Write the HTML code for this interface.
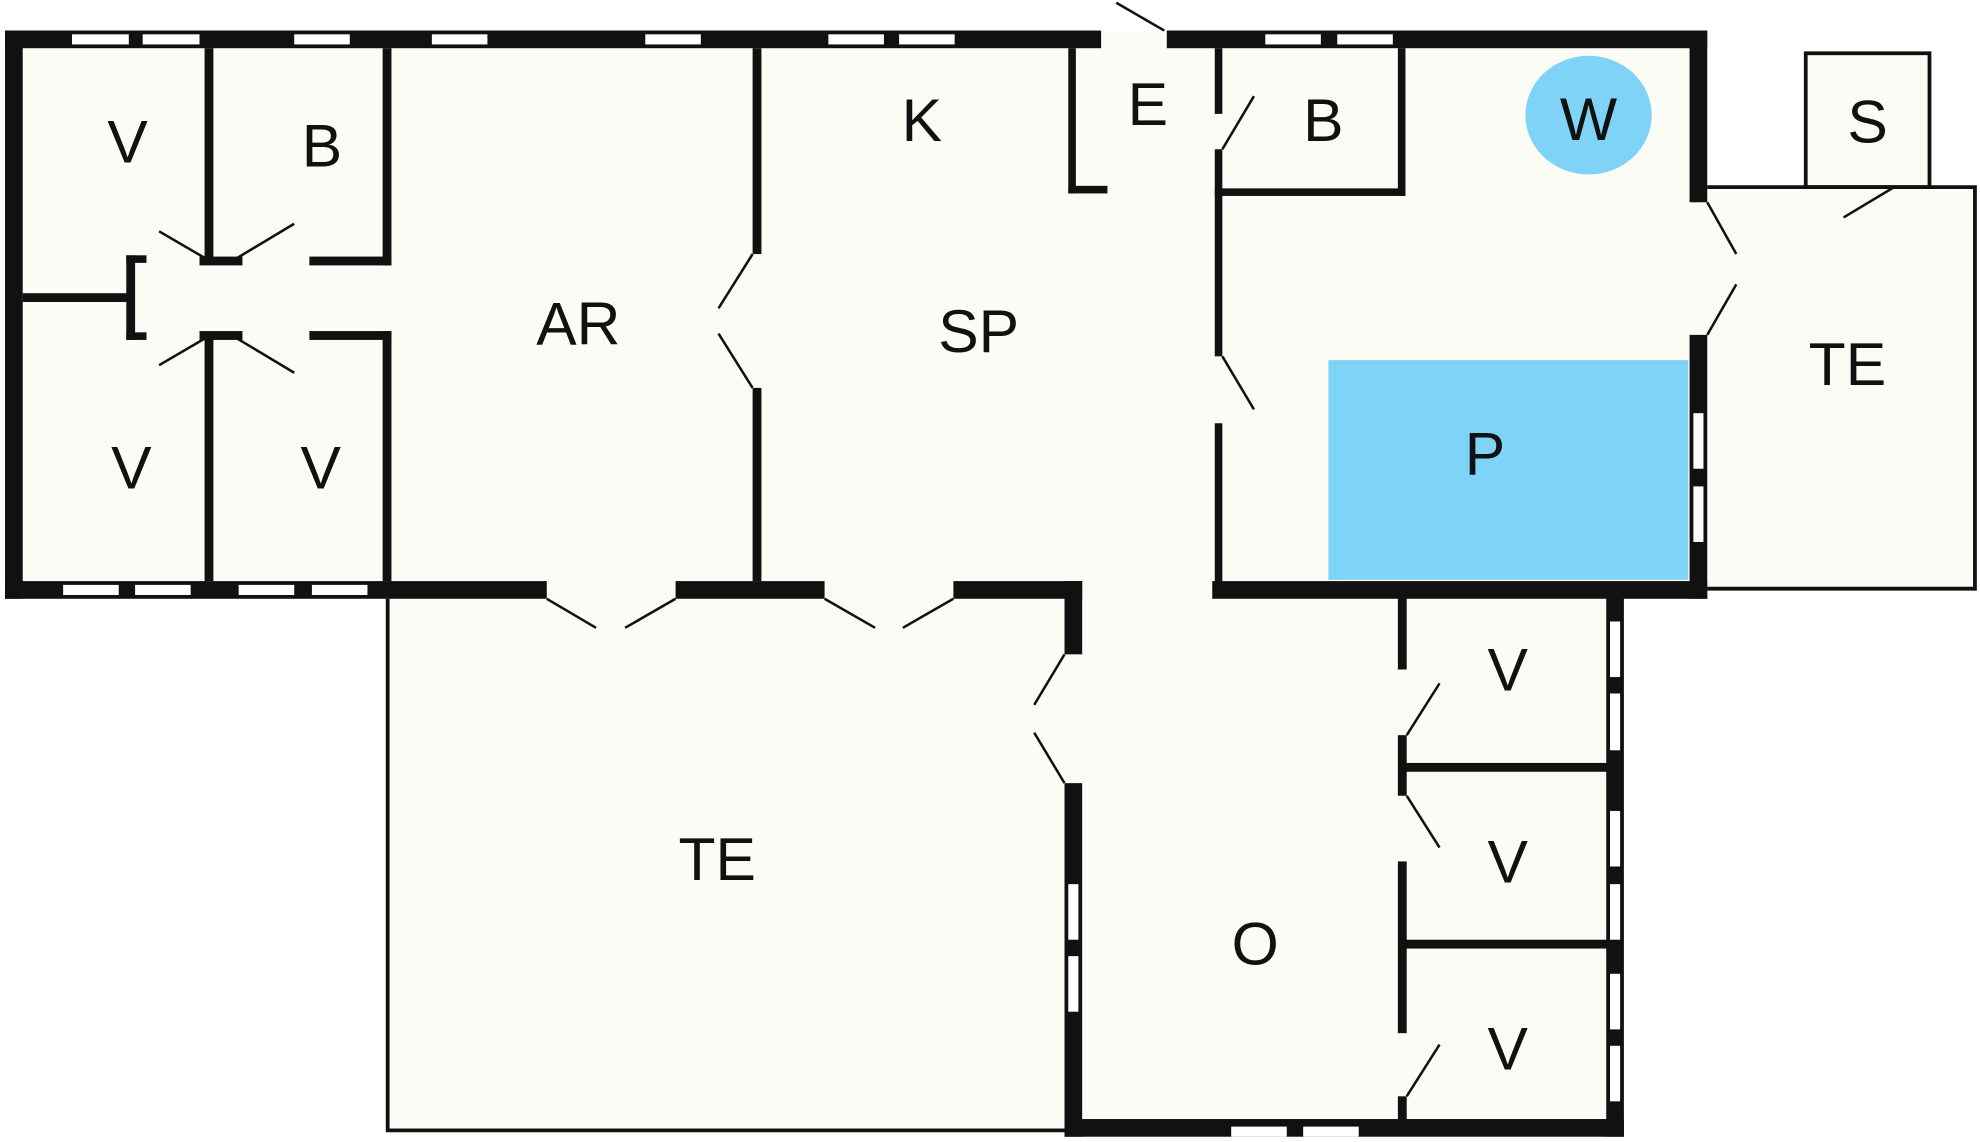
<!DOCTYPE html>
<html><head><meta charset="utf-8"><style>
html,body{margin:0;padding:0;background:#fff;width:1980px;height:1142px;overflow:hidden}
svg{display:block}
text{font-family:"Liberation Sans",sans-serif;font-size:48px;fill:#111;text-anchor:middle;dominant-baseline:central}
</style></head><body>
<svg width="1980" height="1142" viewBox="0 0 1568 904" xmlns="http://www.w3.org/2000/svg">
<g fill="#fcfcf7">
<rect x="4" y="24" width="1348" height="450"/>
<rect x="306" y="466" width="551" height="430"/>
<rect x="843" y="460" width="443" height="440"/>
<rect x="1352" y="148" width="212" height="319"/>
<rect x="1430" y="42" width="98" height="106"/>
</g>
<rect x="1052" y="285" width="285" height="174" fill="#7fd3f6"/>
<ellipse cx="1258" cy="91" rx="50" ry="47" fill="#7fd3f6"/>
<g fill="none" stroke="#111" stroke-width="3">
<path d="M307 474 V895 H845"/>
<path d="M1352 148 H1564 V466 H1352"/>
<rect x="1430" y="42" width="98" height="106"/>
</g>
<g fill="#111">
<rect x="4" y="24" width="868" height="14"/>
<rect x="924" y="24" width="428" height="14"/>
<rect x="4" y="24" width="14" height="450"/>
<rect x="4" y="460" width="429" height="14"/>
<rect x="535" y="460" width="118" height="14"/>
<rect x="755" y="460" width="102" height="14"/>
<rect x="1338" y="24" width="14" height="136"/>
<rect x="1338" y="265" width="14" height="209"/>
<rect x="960" y="460" width="392" height="14"/>
<rect x="843" y="460" width="14" height="58"/>
<rect x="843" y="620" width="14" height="280"/>
<rect x="843" y="886" width="443" height="14"/>
<rect x="1272" y="466" width="14" height="434"/>
<rect x="162" y="38" width="7" height="170"/>
<rect x="162" y="264" width="7" height="196"/>
<rect x="303" y="38" width="7" height="172"/>
<rect x="303" y="262" width="7" height="198"/>
<rect x="245" y="203" width="65" height="7"/>
<rect x="245" y="262" width="65" height="7"/>
<rect x="158" y="203" width="34" height="7"/>
<rect x="158" y="262" width="34" height="7"/>
<rect x="18" y="232" width="88" height="7"/>
<rect x="100" y="202" width="7" height="67"/>
<rect x="100" y="202" width="16" height="6"/>
<rect x="100" y="263" width="16" height="6"/>
<rect x="596" y="38" width="7" height="163"/>
<rect x="596" y="307" width="7" height="153"/>
<rect x="846" y="38" width="6" height="115"/>
<rect x="846" y="147" width="31" height="6"/>
<rect x="962" y="38" width="6" height="52"/>
<rect x="962" y="118" width="6" height="164"/>
<rect x="962" y="335" width="6" height="131"/>
<rect x="1107" y="38" width="6" height="117"/>
<rect x="962" y="149" width="151" height="6"/>
<rect x="1107" y="466" width="7" height="64"/>
<rect x="1107" y="582" width="7" height="48"/>
<rect x="1107" y="682" width="7" height="136"/>
<rect x="1107" y="868" width="7" height="22"/>
<rect x="1113" y="604" width="160" height="7"/>
<rect x="1113" y="744" width="160" height="7"/>
</g>
<g fill="#fff">
<rect x="57" y="27" width="45" height="8"/><rect x="113" y="27" width="45" height="8"/>
<rect x="233" y="27" width="44" height="8"/><rect x="342" y="27" width="44" height="8"/>
<rect x="511" y="27" width="44" height="8"/><rect x="656" y="27" width="44" height="8"/>
<rect x="712" y="27" width="44" height="8"/><rect x="1002" y="27" width="44" height="8"/>
<rect x="1059" y="27" width="44" height="8"/>
<rect x="50" y="463" width="44" height="8"/><rect x="107" y="463" width="44" height="8"/>
<rect x="189" y="463" width="44" height="8"/><rect x="247" y="463" width="44" height="8"/>
<rect x="975" y="892" width="44" height="8"/><rect x="1032" y="892" width="44" height="8"/>
<rect x="1275" y="492" width="8" height="44"/><rect x="1275" y="549" width="8" height="45"/>
<rect x="1275" y="642" width="8" height="44"/><rect x="1275" y="700" width="8" height="44"/>
<rect x="1275" y="771" width="8" height="44"/><rect x="1275" y="828" width="8" height="44"/>
<rect x="1341" y="327" width="8" height="44"/><rect x="1341" y="385" width="8" height="44"/>
<rect x="846" y="700" width="8" height="44"/><rect x="846" y="757" width="8" height="44"/>
</g>
<g stroke="#111" stroke-width="2" fill="none">
<line x1="884" y1="2" x2="922" y2="24"/>
<line x1="126" y1="183" x2="162" y2="204"/><line x1="188" y1="204" x2="233" y2="177"/>
<line x1="126" y1="289" x2="162" y2="268"/><line x1="188" y1="268" x2="233" y2="295"/>
<line x1="596" y1="201" x2="569" y2="244"/><line x1="596" y1="307" x2="569" y2="264"/>
<line x1="433" y1="474" x2="472" y2="497"/><line x1="535" y1="474" x2="495" y2="497"/>
<line x1="653" y1="474" x2="693" y2="497"/><line x1="755" y1="474" x2="715" y2="497"/>
<line x1="843" y1="518" x2="819" y2="558"/><line x1="843" y1="620" x2="819" y2="580"/>
<line x1="968" y1="118" x2="993" y2="76"/><line x1="968" y1="282" x2="993" y2="324"/>
<line x1="1352" y1="160" x2="1375" y2="201"/><line x1="1352" y1="265" x2="1375" y2="225"/>
<line x1="1460" y1="172" x2="1500" y2="148"/>
<line x1="1114" y1="582" x2="1140" y2="541"/><line x1="1114" y1="630" x2="1140" y2="671"/>
<line x1="1114" y1="868" x2="1140" y2="827"/>
</g>
<text x="101" y="112">V</text><text x="255" y="115">B</text>
<text x="104" y="370">V</text><text x="254" y="370">V</text>
<text x="458" y="256">AR</text><text x="730" y="95">K</text>
<text x="909" y="82">E</text><text x="1048" y="95">B</text>
<text x="1258" y="94">W</text><text x="1479" y="96">S</text>
<text x="775" y="262">SP</text><text x="1463" y="288">TE</text>
<text x="1176" y="359">P</text><text x="568" y="680">TE</text>
<text x="994" y="747">O</text>
<text x="1194" y="530">V</text><text x="1194" y="682">V</text><text x="1194" y="830">V</text>
</svg>
</body></html>
